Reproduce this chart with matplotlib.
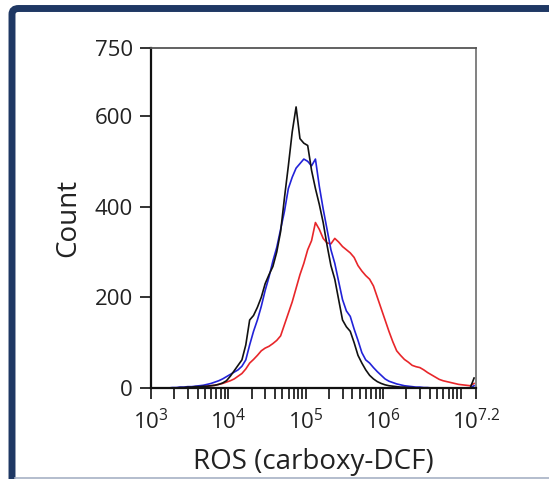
import numpy as np
import matplotlib
matplotlib.use("Agg")
import matplotlib.pyplot as plt
from matplotlib.patches import FancyBboxPatch
from matplotlib.lines import Line2D

plt.rcParams['font.family'] = ['Open Sans', 'DejaVu Sans']
plt.rcParams['mathtext.fontset'] = 'custom'
plt.rcParams['mathtext.rm'] = 'Open Sans'
plt.rcParams['mathtext.it'] = 'Open Sans'

# ---- data: histogram counts per log-bin (bins of 0.05 decade from 10^3 to 10^7.2)
log_start = 3.0
log_stop = 7.2
black_counts = [0, 0, 0, 0, 0, 0, 0, 1, 1, 2,
                2, 3, 3, 4, 4, 5, 6, 8, 11, 16,
                26, 38, 50, 62, 95, 150, 160, 178, 200, 230,
                250, 268, 300, 345, 420, 490, 565, 620, 550, 540,
                535, 480, 440, 405, 365, 315, 270, 240, 195, 150,
                135, 125, 100, 72, 55, 40, 28, 20, 14, 10,
                7, 5, 4, 3, 2, 2, 1, 1, 0, 0,
                0, 0, 0, 0, 0, 0, 0, 0, 0, 0,
                0, 0, 0, 22]
blue_counts = [0, 0, 0, 0, 0, 1, 1, 2, 2, 3,
               3, 4, 5, 6, 8, 10, 13, 16, 20, 25,
               30, 35, 40, 48, 62, 95, 125, 150, 180, 215,
               245, 280, 310, 350, 390, 440, 465, 485, 495, 505,
               500, 490, 505, 445, 395, 350, 305, 275, 235, 195,
               170, 158, 130, 105, 78, 62, 55, 45, 36, 28,
               20, 15, 12, 9, 7, 5, 4, 3, 2, 2,
               1, 1, 0, 0, 0, 0, 0, 0, 0, 0,
               0, 0, 0, 5]
red_counts = [0, 0, 0, 0, 0, 0, 0, 0, 0, 0,
              0, 1, 2, 3, 4, 5, 6, 8, 10, 13,
              16, 20, 26, 32, 42, 55, 63, 72, 82, 88,
              92, 98, 105, 115, 140, 165, 190, 220, 250, 275,
              305, 325, 365, 350, 330, 320, 318, 330, 322, 312,
              305, 298, 288, 270, 258, 248, 240, 225, 200, 175,
              150, 125, 102, 82, 72, 63, 57, 50, 47, 45,
              40, 34, 29, 24, 19, 16, 14, 12, 10, 8,
              7, 6, 5, 10]
y_ticks = [0, 200, 400, 600, 750]
x_tick_exps = [3, 4, 5, 6, 7.2]
x_tick_labels = [r'$10^{3}$', r'$10^{4}$', r'$10^{5}$', r'$10^{6}$', r'$10^{7.2}$']
x_label = 'ROS (carboxy-DCF)'
y_label = 'Count'

W, H = 549, 479
fig = plt.figure(figsize=(W / 100, H / 100), dpi=100)

# navy frame
frame = FancyBboxPatch((12 / W, -0.3), 1.2, 1 - 8.5 / H + 0.3,
                       boxstyle="round,pad=0,rounding_size=0.012",
                       transform=fig.transFigure, facecolor='none',
                       edgecolor='#1f3864', linewidth=5.0, zorder=0)
fig.patches.append(frame)
fig.lines.append(Line2D([15 / W, 1], [1 - 478 / H] * 2, transform=fig.transFigure,
                        color='#a7b1c5', linewidth=1.2))

ax = fig.add_axes([151 / W, 1 - 388 / H, 325 / W, 340 / H])

n = len(black_counts)
step = (log_stop - log_start) / n
centers = 10 ** (log_start + step * (np.arange(n) + 0.5))
ax.plot(centers, red_counts, color='#e8262a', linewidth=1.2)
ax.plot(centers, blue_counts, color='#2222d8', linewidth=1.2)
ax.plot(centers, black_counts, color='#111111', linewidth=1.2)

ax.set_xscale('log')
ax.set_xlim(10 ** log_start, 10 ** log_stop)
ax.set_ylim(0, 750)

ax.set_xticks([10 ** e for e in x_tick_exps])
ax.set_xticklabels(x_tick_labels)
minor = [m * 10 ** d for d in range(3, 7) for m in range(2, 10)] + [1e7]
ax.set_xticks(minor, minor=True)
ax.set_yticks(y_ticks)
ax.set_yticklabels([str(v) for v in y_ticks])

ax.tick_params(axis='both', which='both', direction='out', length=8, width=1.3,
               color='#222222', labelsize=16, labelcolor='#222222')
ax.tick_params(axis='x', which='minor', labelbottom=False)
ax.tick_params(axis='x', pad=7)
ax.tick_params(axis='y', pad=5)

for s in ['left', 'bottom']:
    ax.spines[s].set_linewidth(1.6)
    ax.spines[s].set_color('#111111')
ax.spines['top'].set_color('#555555')
ax.spines['top'].set_linewidth(1.3)
ax.spines['right'].set_color('#777777')
ax.spines['right'].set_linewidth(1.3)

ax.set_xlabel(x_label, fontsize=20, color='#222222')
ax.set_ylabel(y_label, fontsize=20, color='#222222')
ax.xaxis.set_label_coords(0.5, -0.176)
ax.yaxis.set_label_coords(-0.212, 0.5)

fig.savefig('out.png', dpi=100)
